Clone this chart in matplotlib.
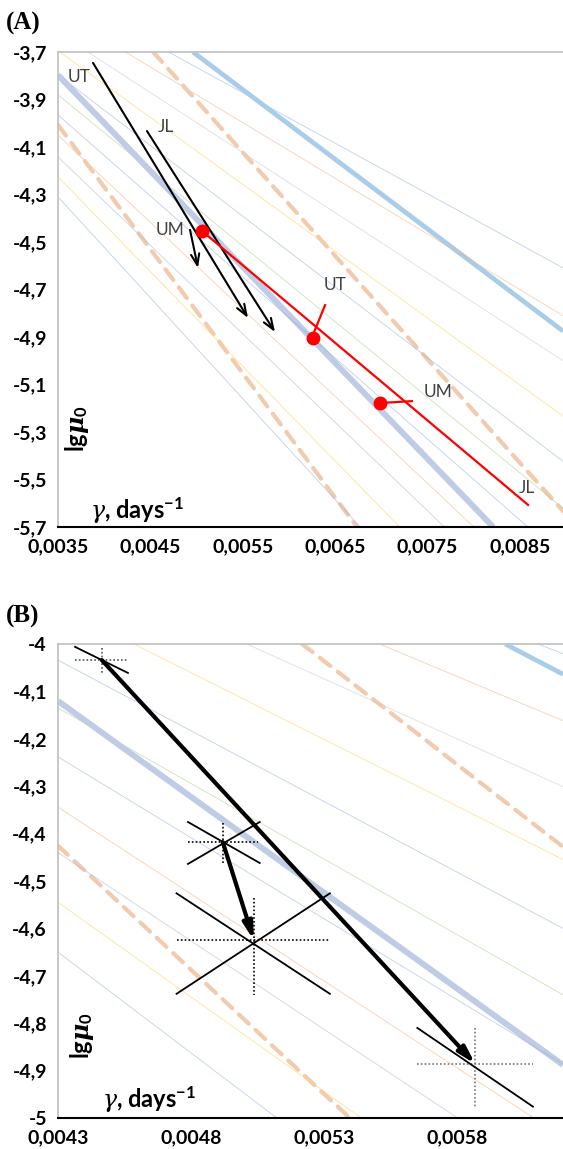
import matplotlib
matplotlib.use('Agg')
import matplotlib.pyplot as plt

plt.rcParams['font.family'] = ['Lato', 'DejaVu Sans']
plt.rcParams['mathtext.fontset'] = 'custom'
plt.rcParams['mathtext.it'] = 'DejaVu Serif:italic'
plt.rcParams['mathtext.bfit'] = 'DejaVu Serif:italic:bold'
plt.rcParams['mathtext.rm'] = 'Lato:bold'
plt.rcParams['mathtext.bf'] = 'Lato:bold'

# ---------------- data ----------------
# background iso-lines: two points (gamma, lg mu0)
iso_x1 = [0.004696, 0.00496, 0.00423, 0.00453, 0.00501, 0.00352, 0.0043, 0.0043,
          0.0035, 0.0035, 0.0043, 0.0035, 0.0035, 0.0035, 0.0035]
iso_y1 = [-3.70, -3.70, -3.70, -3.70, -4.00, -3.70, -4.034, -4.135,
          -3.797, -3.965, -4.344, -4.007, -4.142, -4.226, -4.31]
iso_x2 = [0.008965, 0.008965, 0.008965, 0.008965, 0.008965, 0.008965, 0.0062, 0.0062,
          0.00821, 0.0043, 0.00609, 0.006736, 0.0043, 0.0043, 0.0043]
iso_y2 = [-4.609, -4.875, -4.81, -5.633, -5.00, -5.233, -4.60, -4.74,
          -5.70, -4.238, -5.00, -5.70, -4.44, -4.545, -4.65]
iso_kind = ['blue', 'thick_lightblue', 'orange', 'dashed', 'gray', 'yellow', 'blue', 'green',
            'thick_bluegray', 'blue', 'orange', 'dashed', 'bluegray', 'yellow', 'blue']

# Panel A: black arrows (start -> end)
arrA_names = ['UT', 'JL', 'UM']
arrA_x0 = [0.003879, 0.004463, 0.004929]
arrA_y0 = [-3.746, -4.033, -4.449]
arrA_x1 = [0.005556, 0.005848, 0.005015]
arrA_y1 = [-4.820, -4.879, -4.609]
lblA_black_x = [0.003727, 0.004669, 0.004712]
lblA_black_y = [-3.805, -4.016, -4.449]

# Panel A: red points and red line
red_names = ['UM', 'UT', 'UM']
red_x = [0.005056, 0.00626, 0.006985]
red_y = [-4.453, -4.904, -5.178]
red_line_x = [0.005056, 0.008587]
red_line_y = [-4.453, -5.607]
red_lbl_names = ['UT', 'UM', 'JL']
red_lbl_x = [0.006498, 0.007613, 0.008576]
red_lbl_y = [-4.681, -5.132, -5.536]
red_lead_x0 = [0.00626, 0.006985]
red_lead_y0 = [-4.89, -5.178]
red_lead_x1 = [0.00639, 0.007331]
red_lead_y1 = [-4.766, -5.17]

# Panel B: points with error crosses
ptB_x = [0.004465, 0.00492, 0.005037, 0.00587]
ptB_y = [-4.034, -4.418, -4.625, -4.886]
# horizontal dotted extent
ptB_hx0 = [0.004364, 0.004789, 0.004746, 0.005652]
ptB_hx1 = [0.004563, 0.005052, 0.005323, 0.006087]
# vertical dotted extent
ptB_vy0 = [-4.008, -4.377, -4.536, -4.810]
ptB_vy1 = [-4.061, -4.462, -4.740, -4.976]
# solid slanted lines (descending)
dsc_x0 = [0.004364, 0.004789, 0.004746, 0.005652]
dsc_y0 = [-4.006, -4.3755, -4.526, -4.810]
dsc_x1 = [0.004563, 0.005059, 0.005323, 0.006087]
dsc_y1 = [-4.061, -4.462, -4.738, -4.976]
# solid slanted lines (ascending)
asc_x0 = [0.004789, 0.004746]
asc_y0 = [-4.464, -4.738]
asc_x1 = [0.005059, 0.005323]
asc_y1 = [-4.3755, -4.526]
# thick arrows (index pairs)
arrB_from = [0, 1]
arrB_to = [3, 2]

# ticks
A_xticks = [0.0035, 0.0045, 0.0055, 0.0065, 0.0075, 0.0085]
A_xlabels = ['0,0035', '0,0045', '0,0055', '0,0065', '0,0075', '0,0085']
A_yticks = [-3.7, -3.9, -4.1, -4.3, -4.5, -4.7, -4.9, -5.1, -5.3, -5.5, -5.7]
A_ylabels = ['-3,7', '-3,9', '-4,1', '-4,3', '-4,5', '-4,7', '-4,9', '-5,1', '-5,3', '-5,5', '-5,7']
B_xticks = [0.0043, 0.0048, 0.0053, 0.0058]
B_xlabels = ['0,0043', '0,0048', '0,0053', '0,0058']
B_yticks = [-4.0, -4.1, -4.2, -4.3, -4.4, -4.5, -4.6, -4.7, -4.8, -4.9, -5.0]
B_ylabels = ['-4', '-4,1', '-4,2', '-4,3', '-4,4', '-4,5', '-4,6', '-4,7', '-4,8', '-4,9', '-5']

# ---------------- styles ----------------
kind_style = {
    'blue': dict(color='#8EA9DB', lw=0.6, alpha=0.55, ls='-'),
    'orange': dict(color='#F4B183', lw=0.6, alpha=0.6, ls='-'),
    'gray': dict(color='#C9C9C9', lw=0.6, alpha=0.6, ls='-'),
    'yellow': dict(color='#FFD966', lw=0.6, alpha=0.7, ls='-'),
    'green': dict(color='#A9D18E', lw=0.6, alpha=0.6, ls='-'),
    'bluegray': dict(color='#A8B8D8', lw=0.6, alpha=0.6, ls='-'),
    'thick_lightblue': dict(color='#A9CCE9', lw=3.4, alpha=1.0, ls='-'),
    'thick_bluegray': dict(color='#BFCCE6', lw=4.3, alpha=1.0, ls='-'),
    'dashed': dict(color='#F2CBAE', lw=3.0, alpha=1.0, ls=(0, (3.2, 2.2))),
}

W, H = 563, 1149
fig = plt.figure(figsize=(W / 100, H / 100), dpi=100)

def px_axes(left, top, right, bottom):
    return fig.add_axes([left / W, 1 - bottom / H, (right - left) / W, (bottom - top) / H])

axA = px_axes(58, 52, 563, 527)
axB = px_axes(58, 644, 563, 1118)

def draw_iso(ax):
    for x1, y1, x2, y2, k in zip(iso_x1, iso_y1, iso_x2, iso_y2, iso_kind):
        st = kind_style[k]
        ax.axline((x1, y1), (x2, y2), color=st['color'], lw=st['lw'], alpha=st['alpha'],
                  linestyle=st['ls'], zorder=1, solid_capstyle='butt', dash_capstyle='round')

def style_axes(ax, xt, xl, yt, yl, xlim, ylim):
    ax.set_xlim(*xlim)
    ax.set_ylim(*ylim)
    ax.set_xticks(xt)
    ax.set_xticklabels(xl)
    ax.set_yticks(yt)
    ax.set_yticklabels(yl)
    ax.tick_params(length=0, pad=8, labelsize=14)
    for lab in ax.get_xticklabels() + ax.get_yticklabels():
        lab.set_fontweight('bold')
    ax.spines['right'].set_visible(False)
    ax.spines['top'].set_color('#BFBFBF')
    ax.spines['top'].set_linewidth(1.2)
    ax.spines['left'].set_color('#BFBFBF')
    ax.spines['left'].set_linewidth(1.2)
    ax.spines['bottom'].set_color('black')
    ax.spines['bottom'].set_linewidth(1.5)

# ---------------- panel A ----------------
draw_iso(axA)
style_axes(axA, A_xticks, A_xlabels, A_yticks, A_ylabels, (0.0035, 0.008965), (-5.7, -3.7))

for x0, y0, x1, y1 in zip(arrA_x0, arrA_y0, arrA_x1, arrA_y1):
    axA.annotate('', xy=(x1, y1), xytext=(x0, y0),
                 arrowprops=dict(arrowstyle='->,head_length=0.8,head_width=0.3', lw=1.5,
                                 color='black', shrinkA=0, shrinkB=0), zorder=5)
for name, x, y in zip(arrA_names, lblA_black_x, lblA_black_y):
    axA.text(x, y, name, fontsize=12.5, color='#404040', ha='center', va='center', zorder=6)

axA.plot(red_line_x, red_line_y, color='#FF0000', lw=1.6, zorder=6)
for x0, y0, x1, y1 in zip(red_lead_x0, red_lead_y0, red_lead_x1, red_lead_y1):
    axA.plot([x0, x1], [y0, y1], color='#FF0000', lw=1.6, zorder=6)
axA.plot(red_x, red_y, 'o', color='#FF0000', ms=10, zorder=7, markeredgewidth=0)
for name, x, y in zip(red_lbl_names, red_lbl_x, red_lbl_y):
    axA.text(x, y, name, fontsize=12.5, color='#404040', ha='center', va='center', zorder=6)

# ---------------- panel B ----------------
draw_iso(axB)
style_axes(axB, B_xticks, B_xlabels, B_yticks, B_ylabels, (0.0043, 0.0062), (-5.0, -4.0))

dot_colors = ['#555555', 'black', 'black', '#777777']
for i in range(len(ptB_x)):
    axB.plot([ptB_hx0[i], ptB_hx1[i]], [ptB_y[i], ptB_y[i]], color=dot_colors[i],
             lw=1.2, ls=(0, (1, 1.3)), zorder=5)
    axB.plot([ptB_x[i], ptB_x[i]], [ptB_vy0[i], ptB_vy1[i]], color=dot_colors[i],
             lw=1.2, ls=(0, (1, 1.3)), zorder=5)
for x0, y0, x1, y1 in zip(dsc_x0, dsc_y0, dsc_x1, dsc_y1):
    axB.plot([x0, x1], [y0, y1], color='black', lw=1.3, zorder=5)
for x0, y0, x1, y1 in zip(asc_x0, asc_y0, asc_x1, asc_y1):
    axB.plot([x0, x1], [y0, y1], color='black', lw=1.3, zorder=5)
for a, b in zip(arrB_from, arrB_to):
    axB.annotate('', xy=(ptB_x[b], ptB_y[b]), xytext=(ptB_x[a], ptB_y[a]),
                 arrowprops=dict(arrowstyle='-|>,head_length=1.0,head_width=0.28', lw=3.0,
                                 color='black', shrinkA=0, shrinkB=0), zorder=6)

# ---------------- axis titles & panel labels ----------------
ylab = r'lg$\mathbfit{\mu}_{0}$'
xlab = r'$\gamma$, days$^{-1}$'
axA.text(0.038, 0.208, ylab, transform=axA.transAxes, rotation=90, ha='center', va='center',
         fontsize=17, fontweight='bold', zorder=8)
axA.text(0.063, 0.017, xlab, transform=axA.transAxes, ha='left', va='baseline',
         fontsize=17, fontweight='bold', zorder=8)
axB.text(0.048, 0.175, ylab, transform=axB.transAxes, rotation=90, ha='center', va='center',
         fontsize=17, fontweight='bold', zorder=8)
axB.text(0.087, 0.021, xlab, transform=axB.transAxes, ha='left', va='baseline',
         fontsize=17, fontweight='bold', zorder=8)

fig.text(6 / W, 1 - 23 / H, '(A)', family='Liberation Serif', fontweight='bold', fontsize=18,
         ha='left', va='center')
fig.text(6 / W, 1 - 616 / H, '(B)', family='Liberation Serif', fontweight='bold', fontsize=18,
         ha='left', va='center')

fig.savefig('out.png', dpi=100)
